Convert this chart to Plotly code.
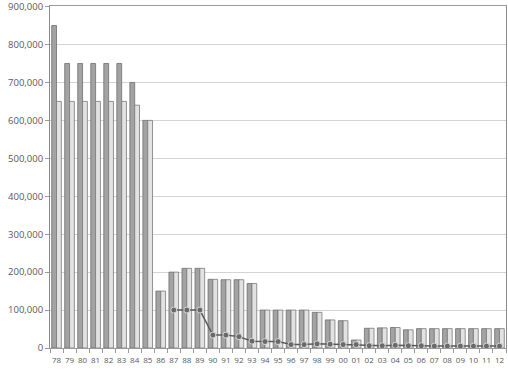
import plotly.graph_objects as go

years = ["78","79","80","81","82","83","84","85","86","87","88","89","90","91","92","93","94","95",
         "96","97","98","99","00","01","02","03","04","05","06","07","08","09","10","11","12"]
series_a = [850000,750000,750000,750000,750000,750000,700000,600000,150000,200000,210000,210000,
            181000,180000,180000,170000,100000,100000,100000,100000,94000,74000,72000,21000,
            52000,53000,54000,48000,51000,51000,51000,51000,51000,51000,51000]
series_b = [650000,650000,650000,650000,650000,650000,640000,600000,150000,200000,210000,210000,
            181000,180000,180000,170000,100000,100000,100000,100000,94000,74000,72000,21000,
            52000,53000,54000,48000,51000,51000,51000,51000,51000,51000,51000]
series_line = [None,None,None,None,None,None,None,None,None,100000,100000,100000,
               34000,34000,30000,18000,17000,17000,9000,9000,11000,10000,9000,9000,
               6000,6000,7000,6000,6000,5000,5000,5000,5000,5000,5000]
y_ticks = [0,100000,200000,300000,400000,500000,600000,700000,800000,900000]

fig = go.Figure()
fig.add_trace(go.Bar(x=years, y=series_a, marker=dict(color="#a3a3a3", line=dict(color="#6e6e6e", width=0.8))))
fig.add_trace(go.Bar(x=years, y=series_b, marker=dict(color="#e2e2e2", line=dict(color="#7a7a7a", width=0.8))))
fig.add_trace(go.Scatter(x=years, y=series_line, mode="lines+markers",
                         line=dict(color="#5a5a5a", width=1.5),
                         marker=dict(symbol="circle", size=6, color="#6a6a6a",
                                     line=dict(color="#d8d8d8", width=1))))

fig.update_layout(
    width=508, height=373,
    margin=dict(l=50, r=2, t=6, b=25, autoexpand=False),
    paper_bgcolor="white", plot_bgcolor="white",
    showlegend=False,
    barmode="group", bargap=0.26, bargroupgap=0,
    font=dict(family="Open Sans", size=9.5, color="#595959"),
)
fig.update_xaxes(type="category", range=[-0.5, len(years) - 0.5],
                 showline=True, linecolor="#9a9a9a", linewidth=1, mirror=True,
                 ticks="outside", tickson="boundaries", ticklen=4, tickcolor="#9a9a9a",
                 ticklabelstandoff=4,
                 showgrid=False, tickangle=0, tickfont=dict(size=8, color="#595959"))
fig.update_yaxes(range=[0, 901500], tickmode="array", tickvals=y_ticks,
                 ticktext=[f"{v:,}" for v in y_ticks], ticklabeloverflow="allow",
                 showgrid=True, automargin=False,
                 gridcolor="#d4d4d4", gridwidth=1, showline=True, linecolor="#8a8a8a",
                 linewidth=1, mirror=True, ticks="outside", ticklen=4, tickcolor="#9a9a9a",
                 zeroline=False)

fig.write_html("out.html")
